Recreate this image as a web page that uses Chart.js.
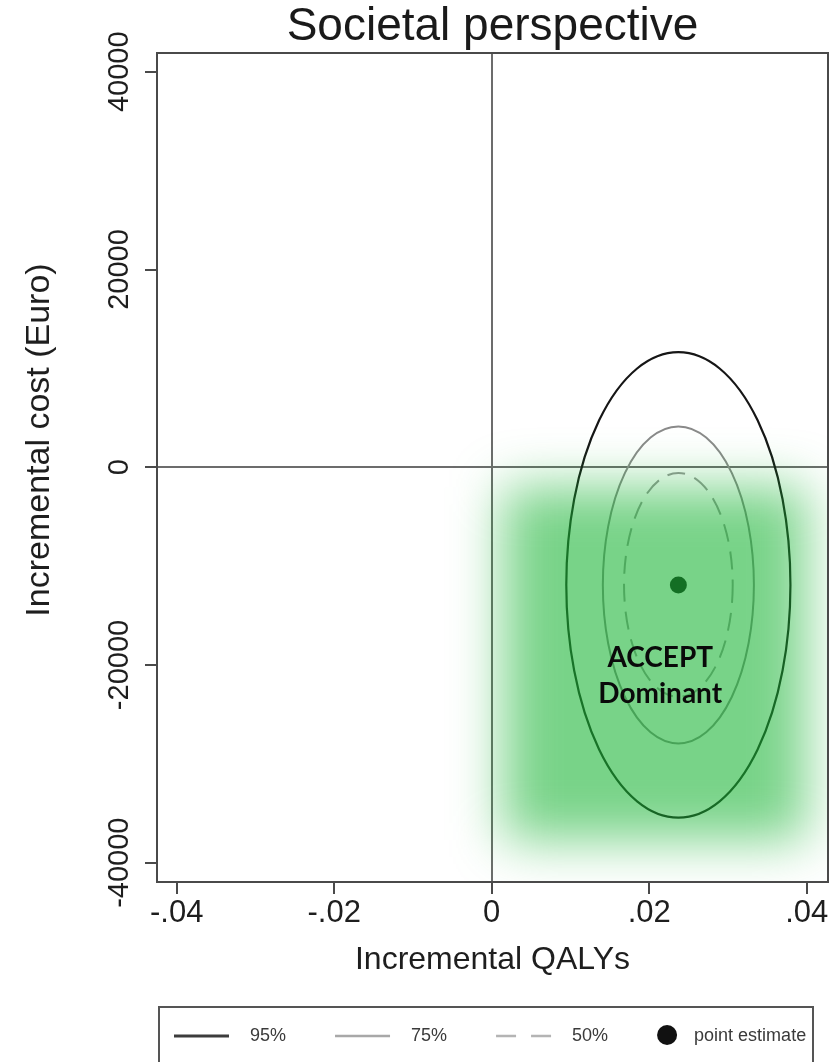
<!DOCTYPE html>
<html>
<head>
<meta charset="utf-8">
<title>Societal perspective</title>
<script src="https://cdn.jsdelivr.net/npm/chart.js@4.4.1/dist/chart.umd.min.js"></script>
<style>
  html, body { margin: 0; padding: 0; background: #ffffff; }
  canvas { display: block; }
</style>
</head>
<body>
<canvas id="plane" width="831" height="1062"></canvas>
<script>
// Cost-effectiveness plane: incremental QALYs vs incremental cost (societal perspective)
const confidenceLevels = ['95%', '75%', '50%'];
const ellipseHalfQaly = [0.01423, 0.00959, 0.0069];
const ellipseHalfCost = [23540, 16030, 11320];
const pointQaly = [0.0237];
const pointCost = [-11900];
const xTickValues = [-0.04, -0.02, 0, 0.02, 0.04];
const xTickLabels = ['-.04', '-.02', '0', '.02', '.04'];
const yTickValues = [-40000, -20000, 0, 20000, 40000];
const yTickLabels = ['-40000', '-20000', '0', '20000', '40000'];
const quadrantLabel = ['ACCEPT', 'Dominant'];
const quadrantLabelQaly = 0.0214;
const quadrantLabelCost = -21150;

const FONT = "'Liberation Sans', Arial, Helvetica, sans-serif";

const ellipseStyles = [
  { color: '#161616', width: 2.2, dash: [] },
  { color: '#8a8a8a', width: 2, dash: [] },
  { color: '#9a9a9a', width: 2, dash: [18, 10] }
];
const legendLineStyles = [
  { color: '#3c3c3c', width: 3, dash: [] },
  { color: '#a8a8a8', width: 2.5, dash: [] },
  { color: '#b4b4b4', width: 2.5, dash: [20, 15] }
];

const planePlugin = {
  id: 'plane',
  beforeDatasetsDraw(chart) {
    const { ctx, chartArea: a, scales: { x, y } } = chart;
    const cx = x.getPixelForValue(pointQaly[0]);
    const cy = y.getPixelForValue(pointCost[0]);
    ctx.save();
    ctx.beginPath();
    ctx.rect(a.left, a.top, a.width, a.height);
    ctx.clip();
    confidenceLevels.forEach((lvl, i) => {
      const rx = Math.abs(x.getPixelForValue(pointQaly[0] + ellipseHalfQaly[i]) - cx);
      const ry = Math.abs(y.getPixelForValue(pointCost[0] + ellipseHalfCost[i]) - cy);
      const s = ellipseStyles[i];
      ctx.beginPath();
      ctx.setLineDash(s.dash);
      ctx.lineWidth = s.width;
      ctx.strokeStyle = s.color;
      ctx.ellipse(cx, cy, rx, ry, 0, 0, Math.PI * 2);
      ctx.stroke();
    });
    ctx.restore();
  },
  afterDatasetsDraw(chart) {
    // soft green wash over the south-east (dominant) quadrant
    const { ctx, chartArea: a, scales: { x, y } } = chart;
    const x0 = x.getPixelForValue(0);
    const y0 = y.getPixelForValue(0);
    const left = x0 + 12, top = y0 + 20;
    const right = a.right - 22, bottom = a.bottom - 42;
    ctx.save();
    ctx.beginPath();
    ctx.rect(a.left, a.top, a.width, a.height);
    ctx.clip();
    ctx.filter = 'blur(26px)';
    ctx.fillStyle = 'rgba(25,181,53,0.59)';
    ctx.fillRect(left, top, right - left, bottom - top);
    ctx.restore();
  },
  afterDraw(chart) {
    const { ctx, chartArea: a, scales: { x, y } } = chart;
    ctx.save();

    // plot frame
    ctx.strokeStyle = '#4a4a4a';
    ctx.lineWidth = 2;
    ctx.setLineDash([]);
    ctx.strokeRect(a.left, a.top, a.width, a.height);

    // x tick labels
    ctx.fillStyle = '#1e1e1e';
    ctx.font = `31px ${FONT}`;
    ctx.textAlign = 'center';
    ctx.textBaseline = 'middle';
    xTickValues.forEach((v, i) => {
      ctx.fillText(xTickLabels[i], x.getPixelForValue(v), a.bottom + 31);
    });

    // vertical y tick labels
    ctx.font = `29px ${FONT}`;
    yTickValues.forEach((v, i) => {
      ctx.save();
      ctx.translate(120, y.getPixelForValue(v));
      ctx.rotate(-Math.PI / 2);
      ctx.fillText(yTickLabels[i], 0, 0);
      ctx.restore();
    });

    // y axis title
    ctx.save();
    ctx.font = `34px ${FONT}`;
    ctx.translate(40, 440);
    ctx.rotate(-Math.PI / 2);
    ctx.fillText('Incremental cost (Euro)', 0, 0);
    ctx.restore();

    // quadrant annotation
    ctx.font = "bold 28px Lato, 'Open Sans', sans-serif";
    ctx.fillStyle = '#0a0a0a';
    const ax = x.getPixelForValue(quadrantLabelQaly);
    const ay = y.getPixelForValue(quadrantLabelCost);
    ctx.fillText(quadrantLabel[0], ax, ay - 18);
    ctx.fillText(quadrantLabel[1], ax, ay + 18);

    // legend
    const ly = 1036;
    ctx.strokeStyle = '#555555';
    ctx.lineWidth = 2;
    ctx.strokeRect(159, 1007, 654, 64);
    ctx.font = `18px ${FONT}`;
    ctx.fillStyle = '#3a3a3a';
    ctx.textAlign = 'left';
    let lx = 174;
    confidenceLevels.forEach((lvl, i) => {
      const s = legendLineStyles[i];
      ctx.beginPath();
      ctx.setLineDash(s.dash);
      ctx.strokeStyle = s.color;
      ctx.lineWidth = s.width;
      ctx.moveTo(lx, ly);
      ctx.lineTo(lx + 55, ly);
      ctx.stroke();
      ctx.setLineDash([]);
      ctx.fillStyle = '#3a3a3a';
      ctx.fillText(lvl, lx + 76, ly);
      lx += 76 + ctx.measureText(lvl).width + 49;
    });
    ctx.beginPath();
    ctx.fillStyle = '#111111';
    ctx.arc(lx + 10, ly - 1, 10, 0, Math.PI * 2);
    ctx.fill();
    ctx.fillStyle = '#3a3a3a';
    ctx.fillText('point estimate', lx + 37, ly);

    ctx.restore();
  }
};

new Chart(document.getElementById('plane'), {
  type: 'scatter',
  data: {
    datasets: [{
      label: 'point estimate',
      data: pointQaly.map((q, i) => ({ x: q, y: pointCost[i] })),
      backgroundColor: '#0d0d0d',
      borderWidth: 0,
      pointRadius: 8.5,
      pointHoverRadius: 8.5
    }]
  },
  options: {
    responsive: false,
    animation: false,
    devicePixelRatio: 1,
    layout: { autoPadding: false, padding: { left: 157, right: 3, top: 0, bottom: 80 } },
    plugins: {
      legend: { display: false },
      tooltip: { enabled: false },
      title: {
        display: true,
        text: 'Societal perspective',
        color: '#1a1a1a',
        font: { family: FONT, size: 46, weight: 'normal', lineHeight: 1 },
        padding: { top: 4, bottom: 3 }
      }
    },
    scales: {
      x: {
        type: 'linear',
        min: -0.0425,
        max: 0.0427,
        afterBuildTicks: s => { s.ticks = xTickValues.map(v => ({ value: v })); },
        afterFit: s => { s.height = 100; },
        border: { display: false },
        grid: {
          color: c => (c.tick && c.tick.value === 0 ? '#6c6c6c' : 'rgba(0,0,0,0)'),
          lineWidth: 2,
          tickColor: '#4a4a4a',
          tickLength: 12,
          tickWidth: 2
        },
        ticks: { display: false },
        title: {
          display: true,
          text: 'Incremental QALYs',
          color: '#1e1e1e',
          font: { family: FONT, size: 32, lineHeight: 1.2 },
          padding: { top: 0, bottom: 3 }
        }
      },
      y: {
        type: 'linear',
        min: -41950,
        max: 41900,
        afterBuildTicks: s => { s.ticks = yTickValues.map(v => ({ value: v })); },
        afterFit: s => { s.width = 0; },
        border: { display: false },
        grid: {
          color: c => (c.tick && c.tick.value === 0 ? '#6c6c6c' : 'rgba(0,0,0,0)'),
          lineWidth: 2,
          tickColor: '#4a4a4a',
          tickLength: 12,
          tickWidth: 2
        },
        ticks: { display: false }
      }
    }
  },
  plugins: [planePlugin]
});
</script>
</body>
</html>
